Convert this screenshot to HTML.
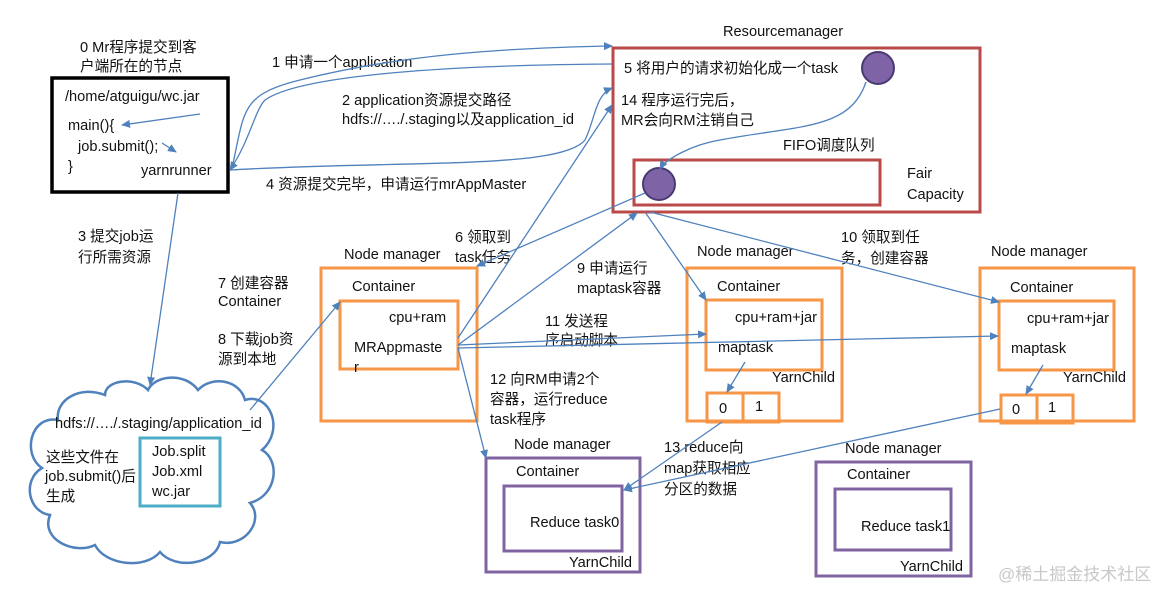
<!DOCTYPE html>
<html><head><meta charset="utf-8"><style>
html,body{margin:0;padding:0;background:#fff;}
svg{display:block}
text{font-family:"Liberation Sans","Noto Sans CJK SC",sans-serif;font-size:14.6px;fill:#111;}
</style></head><body>
<svg width="1176" height="602" viewBox="0 0 1176 602" xmlns="http://www.w3.org/2000/svg">
<defs>
<marker id="a" markerWidth="10" markerHeight="10" refX="8" refY="4" orient="auto" markerUnits="userSpaceOnUse">
<path d="M0,0 L9,4 L0,8 z" fill="#4f81bd"/></marker>
</defs>
<!-- client box -->
<rect x="52" y="78" width="176" height="114" fill="none" stroke="#000" stroke-width="3.5"/>
<text x="80" y="52">0 Mr程序提交到客</text>
<text x="80" y="71">户端所在的节点</text>
<text x="65" y="101">/home/atguigu/wc.jar</text>
<text x="68" y="130">main(){</text>
<text x="78" y="151">job.submit();</text>
<text x="68" y="171">}</text>
<text x="141" y="175">yarnrunner</text>
<!-- RM -->
<text x="723" y="36">Resourcemanager</text>
<rect x="613" y="48" width="367" height="164" fill="none" stroke="#b94a48" stroke-width="3"/>
<rect x="634" y="160" width="246" height="45" fill="none" stroke="#b94a48" stroke-width="3"/>
<text x="624" y="73">5 将用户的请求初始化成一个task</text>
<text x="621" y="105">14 程序运行完后，</text>
<text x="621" y="125">MR会向RM注销自己</text>
<text x="783" y="150">FIFO调度队列</text>
<text x="907" y="178">Fair</text>
<text x="907" y="199">Capacity</text>
<circle cx="878" cy="68" r="16" fill="#7e63a6" stroke="#4a3a72" stroke-width="2"/>
<circle cx="659" cy="184" r="16" fill="#7e63a6" stroke="#4a3a72" stroke-width="2"/>
<!-- labels -->
<text x="272" y="67">1 申请一个application</text>
<text x="342" y="105">2 application资源提交路径</text>
<text x="342" y="124">hdfs://…./.staging以及application_id</text>
<text x="266" y="189">4 资源提交完毕，申请运行mrAppMaster</text>
<text x="78" y="241">3 提交job运</text>
<text x="78" y="262">行所需资源</text>
<text x="455" y="242">6 领取到</text>
<text x="455" y="262">task任务</text>
<text x="344" y="259">Node manager</text>
<text x="218" y="288">7 创建容器</text>
<text x="218" y="306">Container</text>
<text x="218" y="344">8 下载job资</text>
<text x="218" y="364">源到本地</text>
<text x="577" y="273">9 申请运行</text>
<text x="577" y="293">maptask容器</text>
<text x="697" y="256">Node manager</text>
<text x="841" y="242">10 领取到任</text>
<text x="841" y="263">务，创建容器</text>
<text x="991" y="256">Node manager</text>
<text x="545" y="326">11 发送程</text>
<text x="545" y="345">序启动脚本</text>
<text x="490" y="384">12 向RM申请2个</text>
<text x="490" y="404">容器，运行reduce</text>
<text x="490" y="424">task程序</text>
<text x="664" y="452">13 reduce向</text>
<text x="664" y="473">map获取相应</text>
<text x="664" y="494">分区的数据</text>
<!-- NM1 -->
<rect x="321" y="268" width="156" height="153" fill="none" stroke="#f79646" stroke-width="3"/>
<rect x="340" y="301" width="118" height="68" fill="none" stroke="#f79646" stroke-width="3"/>
<text x="352" y="291">Container</text>
<text x="389" y="322">cpu+ram</text>
<text x="354" y="352">MRAppmaste</text>
<text x="354" y="372">r</text>
<!-- NM2 -->
<rect x="687" y="268" width="155" height="153" fill="none" stroke="#f79646" stroke-width="3"/>
<rect x="706" y="300" width="116" height="70" fill="none" stroke="#f79646" stroke-width="3"/>
<rect x="707" y="393" width="36" height="29" fill="none" stroke="#f79646" stroke-width="3"/>
<rect x="743" y="393" width="36" height="29" fill="none" stroke="#f79646" stroke-width="3"/>
<text x="717" y="291">Container</text>
<text x="735" y="322">cpu+ram+jar</text>
<text x="718" y="352">maptask</text>
<text x="772" y="382">YarnChild</text>
<text x="719" y="413">0</text><text x="755" y="411">1</text>
<!-- NM3 -->
<rect x="980" y="268" width="154" height="153" fill="none" stroke="#f79646" stroke-width="3"/>
<rect x="999" y="301" width="115" height="69" fill="none" stroke="#f79646" stroke-width="3"/>
<rect x="1001" y="395" width="36" height="28" fill="none" stroke="#f79646" stroke-width="3"/>
<rect x="1037" y="395" width="36" height="28" fill="none" stroke="#f79646" stroke-width="3"/>
<text x="1010" y="292">Container</text>
<text x="1027" y="323">cpu+ram+jar</text>
<text x="1011" y="353">maptask</text>
<text x="1063" y="382">YarnChild</text>
<text x="1012" y="414">0</text><text x="1048" y="412">1</text>
<!-- Reduce NM1 -->
<text x="514" y="449">Node manager</text>
<rect x="486" y="458" width="154" height="114" fill="none" stroke="#8064a2" stroke-width="3"/>
<rect x="504" y="486" width="118" height="65" fill="none" stroke="#8064a2" stroke-width="3"/>
<text x="516" y="476">Container</text>
<text x="530" y="527">Reduce task0</text>
<text x="569" y="567">YarnChild</text>
<!-- Reduce NM2 -->
<text x="845" y="453">Node manager</text>
<rect x="816" y="462" width="155" height="114" fill="none" stroke="#8064a2" stroke-width="3"/>
<rect x="835" y="489" width="116" height="61" fill="none" stroke="#8064a2" stroke-width="3"/>
<text x="847" y="479">Container</text>
<text x="861" y="531">Reduce task1</text>
<text x="900" y="571">YarnChild</text>
<text x="998" y="580" style="fill:#c8c8c8;font-size:17px">@稀土掘金技术社区</text>
<!-- cloud -->
<path d="M58,420 C30,415 22,455 42,468 C22,480 28,512 50,515 C40,540 75,555 95,545 C105,565 145,570 160,552 C175,570 215,565 220,542 C245,548 265,520 250,503 C278,495 280,460 262,450 C285,430 270,392 245,400 C240,380 212,375 198,390 C185,372 155,375 148,390 C135,376 105,380 105,395 C80,385 55,400 58,420 Z" fill="none" stroke="#4f81bd" stroke-width="2.5"/>
<rect x="140" y="438" width="80" height="68" fill="#fff" stroke="#4bacc6" stroke-width="3"/>
<text x="55" y="428">hdfs://…./.staging/application_id</text>
<text x="46" y="462">这些文件在</text>
<text x="45" y="481">job.submit()后</text>
<text x="46" y="501">生成</text>
<text x="152" y="456">Job.split</text>
<text x="152" y="476">Job.xml</text>
<text x="152" y="496">wc.jar</text>
<!-- connectors -->
<g fill="none" stroke="#4f81bd" stroke-width="1.3">
<path d="M232,168 C245,110 240,95 300,80 C400,55 500,48 612,46" marker-end="url(#a)"/>
<path d="M612,64 C450,65 300,75 265,100 C255,110 250,140 230,170" marker-end="url(#a)"/>
<path d="M230,170 C400,160 560,170 585,140 C595,120 595,95 612,88" marker-end="url(#a)"/>
<path d="M200,114 L122,125" marker-end="url(#a)"/>
<path d="M162,143 L176,152" marker-end="url(#a)"/>
<path d="M178,193 L150,385" marker-end="url(#a)"/>
<path d="M250,410 L340,302" marker-end="url(#a)"/>
<path d="M866,82 C850,130 800,125 720,140 C690,145 665,160 660,169" marker-end="url(#a)"/>
<path d="M645,193 L477,266" marker-end="url(#a)"/>
<path d="M458,338 L612,105" marker-end="url(#a)"/>
<path d="M458,345 L637,213" marker-end="url(#a)"/>
<path d="M458,345 L706,334" marker-end="url(#a)"/>
<path d="M458,348 L998,336" marker-end="url(#a)"/>
<path d="M458,348 L486,458" marker-end="url(#a)"/>
<path d="M645,212 L706,300" marker-end="url(#a)"/>
<path d="M650,212 L999,302" marker-end="url(#a)"/>
<path d="M745,362 L727,392" marker-end="url(#a)"/>
<path d="M1043,365 L1026,394" marker-end="url(#a)"/>
<path d="M722,422 L624,490" marker-end="url(#a)"/>
<path d="M1000,409 L624,490" marker-end="url(#a)"/>
</g>
</svg>
</body></html>
